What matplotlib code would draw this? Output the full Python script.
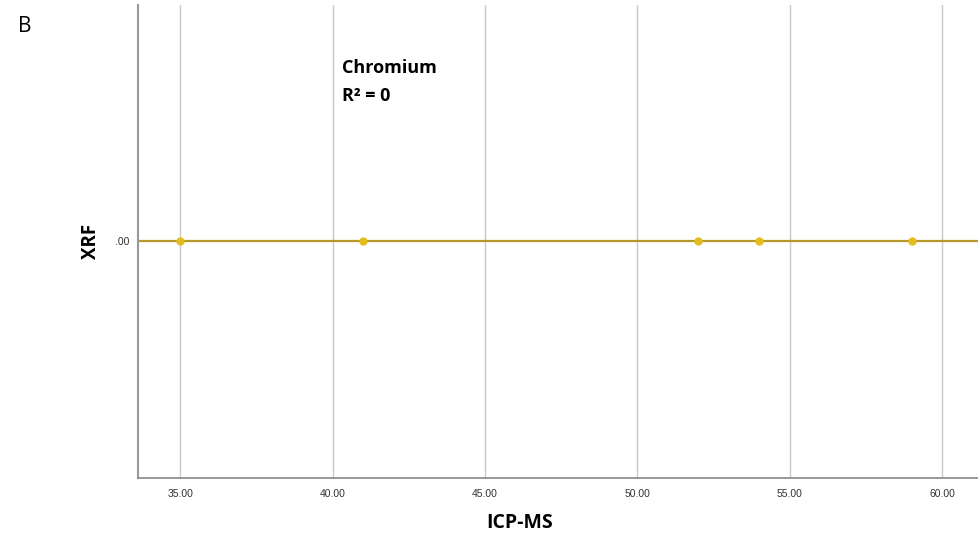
import matplotlib.pyplot as plt

# Data
icp_ms = [35, 41, 52, 54, 59]
xrf = [0, 0, 0, 0, 0]
x_ticks = [35, 40, 45, 50, 55, 60]

fig = plt.figure(figsize=(9.79, 5.39), dpi=100)
ax = fig.add_axes([0.141, 0.113, 0.859, 0.878])

ax.axhline(0, color="#B8982A", linewidth=1.6, zorder=2)
ax.scatter(icp_ms, xrf, s=36, color="#E3BC1E", zorder=3, linewidths=0)

ax.set_xlim(33.62, 61.21)
ax.set_ylim(-1, 1)
ax.set_xticks(x_ticks)
ax.set_xticklabels([f"{t:.2f}" for t in x_ticks])
ax.set_yticks([0])
ax.set_yticklabels([".00"])
ax.tick_params(length=0, labelsize=7.5, colors="#333333", pad=6)
ax.tick_params(axis="x", pad=8)
for lab in ax.get_xticklabels() + ax.get_yticklabels():
    lab.set_family("Liberation Sans")

ax.grid(axis="x", color="#C8C8C8", linewidth=1)
ax.set_axisbelow(True)
for side in ["top", "right"]:
    ax.spines[side].set_visible(False)
ax.spines["left"].set_color("#999999")
ax.spines["left"].set_linewidth(1.5)
ax.spines["bottom"].set_color("#888888")
ax.spines["bottom"].set_linewidth(1.2)

fig.text(520 / 979, 1 - 523 / 539, "ICP-MS", fontsize=14, fontweight="bold",
         family="Open Sans", ha="center", va="center")
fig.text(91 / 979, 1 - 241 / 539, "XRF", fontsize=13.5, fontweight="bold",
         family="Open Sans", ha="center", va="center", rotation=90)

ax.text(40.3, 0.675, "Chromium\nR² = 0", fontsize=13, fontweight="bold",
        family="Open Sans", va="center", ha="left", linespacing=1.75)

fig.text(0.018, 0.95, "B", fontsize=15, family="Open Sans", va="center")

plt.savefig("out.png", dpi=100)
